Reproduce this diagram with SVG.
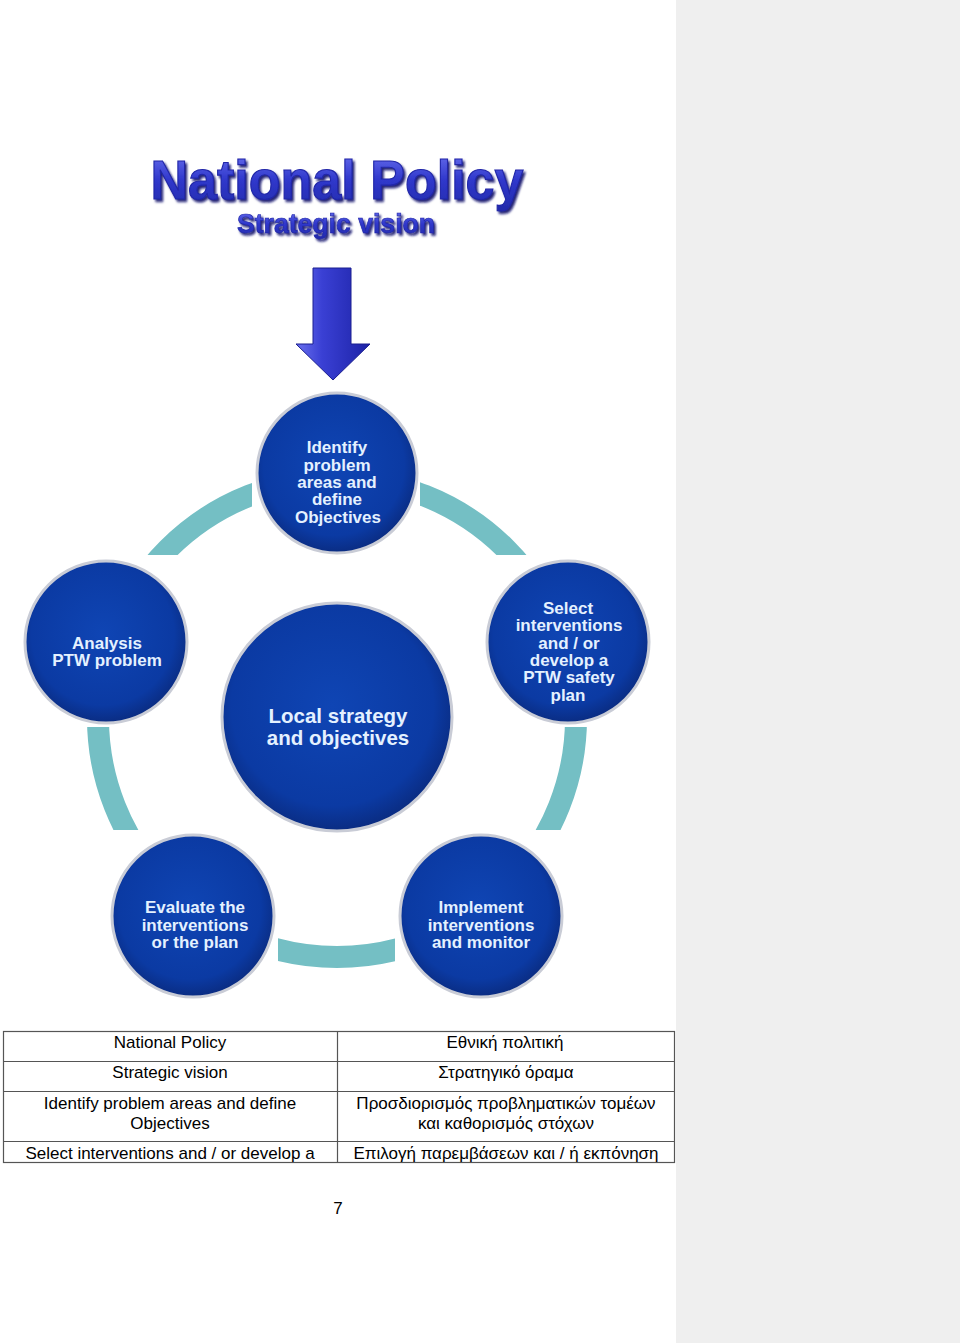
<svg xmlns="http://www.w3.org/2000/svg" width="960" height="1343" viewBox="0 0 960 1343">
<defs>
<style>
.ct{font-family:"Liberation Sans",Arial,sans-serif;font-weight:bold;font-size:17px;fill:#e4f1ff;text-anchor:middle}
.big{font-size:20.5px}
.tt{font-family:"Liberation Sans",Arial,sans-serif;font-size:17px;fill:#000;text-anchor:middle}
.node{fill:url(#bg);stroke:#c9ccd6;stroke-width:3}
.ring{fill:none;stroke:#74bfc4;stroke-width:22}
.grid{stroke:#555;stroke-width:1.2;fill:none}
.ttl{font-family:"Liberation Sans",Arial,sans-serif;font-weight:bold;text-anchor:middle;fill:url(#tg);stroke:#2026a8;filter:url(#sh)}
</style>
<filter id="sh" x="-10%" y="-30%" width="120%" height="160%">
<feDropShadow dx="2" dy="2.5" stdDeviation="0.8" flood-color="#10106a" flood-opacity="0.9"/>
</filter>
<radialGradient id="bg" cx="0.48" cy="0.45" r="0.55">
<stop offset="0" stop-color="#0f45b4"/>
<stop offset="0.8" stop-color="#0b3aa3"/>
<stop offset="1" stop-color="#0a2c82"/>
</radialGradient>
<linearGradient id="tg" x1="0" y1="0" x2="0" y2="1">
<stop offset="0" stop-color="#7076f2"/>
<stop offset="0.5" stop-color="#3038cc"/>
<stop offset="1" stop-color="#222aaa"/>
</linearGradient>
<linearGradient id="ag" x1="0" y1="0" x2="1" y2="0">
<stop offset="0" stop-color="#6a70ee"/>
<stop offset="0.35" stop-color="#3a40d4"/>
<stop offset="1" stop-color="#1c22a6"/>
</linearGradient>
<clipPath id="rc">
<rect x="135" y="465" width="117" height="90"/>
<rect x="420" y="465" width="120" height="90"/>
<rect x="75" y="727" width="80" height="103"/>
<rect x="520" y="727" width="80" height="103"/>
<rect x="278" y="925" width="117" height="55"/>
</clipPath>
</defs>
<rect x="0" y="0" width="960" height="1343" fill="#ffffff"/>
<rect x="676" y="0" width="284" height="1343" fill="#efefef"/>

<g id="title">
<text class="ttl" x="337" y="199" font-size="56" stroke-width="1.2" textLength="373" lengthAdjust="spacingAndGlyphs">National Policy</text>
<text class="ttl" x="336" y="233" font-size="28" stroke-width="0.7" textLength="198" lengthAdjust="spacingAndGlyphs">Strategic vision</text>
</g>

<g id="arrow">
<path d="M313,268 L351,268 L351,344 L370,344 L333,380 L296,344 L313,344 Z" fill="url(#ag)" stroke="#1a1e90" stroke-width="1"/>
</g>

<g id="connectors">
<circle class="ring" cx="337" cy="718" r="239" clip-path="url(#rc)"/>
</g>

<g id="n-identify">
<circle class="node" cx="337" cy="473" r="80"/>
<text class="ct" x="337" y="453">Identify</text>
<text class="ct" x="337" y="471">problem</text>
<text class="ct" x="337" y="488">areas and</text>
<text class="ct" x="337" y="505">define</text>
<text class="ct" x="338" y="523">Objectives</text>
</g>

<g id="n-analysis">
<circle class="node" cx="106" cy="642" r="81"/>
<text class="ct" x="107" y="649">Analysis</text>
<text class="ct" x="107" y="666">PTW problem</text>
</g>

<g id="n-select">
<circle class="node" cx="568" cy="642" r="81"/>
<text class="ct" x="568" y="614">Select</text>
<text class="ct" x="569" y="631">interventions</text>
<text class="ct" x="569" y="649">and / or</text>
<text class="ct" x="569" y="666">develop a</text>
<text class="ct" x="569" y="683">PTW safety</text>
<text class="ct" x="568" y="701">plan</text>
</g>

<g id="n-local">
<ellipse class="node" cx="337" cy="717" rx="115" ry="114"/>
<text class="ct big" x="338" y="723">Local strategy</text>
<text class="ct big" x="338" y="745">and objectives</text>
</g>

<g id="n-evaluate">
<circle class="node" cx="193" cy="916" r="81"/>
<text class="ct" x="195" y="913">Evaluate the</text>
<text class="ct" x="195" y="931">interventions</text>
<text class="ct" x="195" y="948">or the plan</text>
</g>

<g id="n-implement">
<circle class="node" cx="481" cy="916" r="81"/>
<text class="ct" x="481" y="913">Implement</text>
<text class="ct" x="481" y="931">interventions</text>
<text class="ct" x="481" y="948">and monitor</text>
</g>

<g id="table">
<rect class="grid" x="3.5" y="1031.5" width="671" height="131"/>
<line class="grid" x1="337.5" y1="1031.5" x2="337.5" y2="1162.5"/>
<line class="grid" x1="3.5" y1="1061.5" x2="674.5" y2="1061.5"/>
<line class="grid" x1="3.5" y1="1091.5" x2="674.5" y2="1091.5"/>
<line class="grid" x1="3.5" y1="1141.5" x2="674.5" y2="1141.5"/>
<text class="tt" x="170" y="1048">National Policy</text>
<text class="tt" x="505" y="1048">Εθνική πολιτική</text>
<text class="tt" x="170" y="1078">Strategic vision</text>
<text class="tt" x="506" y="1078">Στρατηγικό όραμα</text>
<text class="tt" x="170" y="1109">Identify problem areas and define</text>
<text class="tt" x="170" y="1129">Objectives</text>
<text class="tt" x="506" y="1109">Προσδιορισμός προβληματικών τομέων</text>
<text class="tt" x="506" y="1129">και καθορισμός στόχων</text>
<text class="tt" x="170" y="1159">Select interventions and / or develop a</text>
<text class="tt" x="506" y="1159">Επιλογή παρεμβάσεων και / ή εκπόνηση</text>
</g>

<text class="tt" x="338" y="1214">7</text>
</svg>
